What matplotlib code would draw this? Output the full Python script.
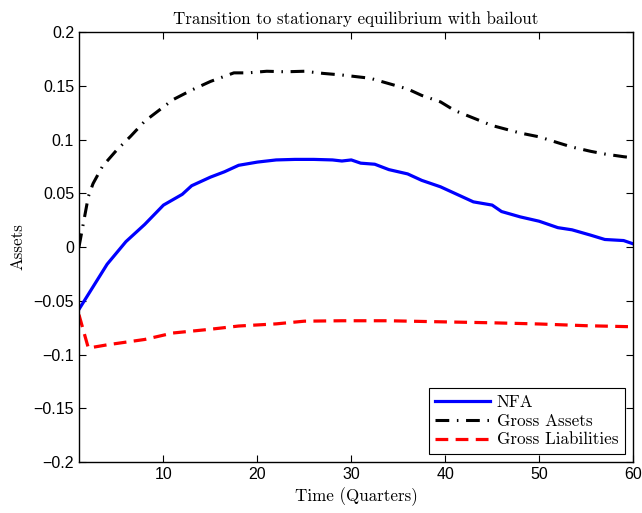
import matplotlib.pyplot as plt

# data (quarters)
t_nfa = [1, 2, 3, 4, 6, 8, 10, 12, 13, 15, 16.5, 18, 20, 22, 24, 26, 28, 29, 30, 31,
         32.5, 34, 36, 37.5, 39.5, 41, 43, 45, 46, 48, 50, 51, 52, 53.5, 55.5, 57, 59, 60]
nfa = [-0.058, -0.044, -0.030, -0.016, 0.005, 0.021, 0.039, 0.049, 0.057, 0.065, 0.070,
       0.076, 0.079, 0.081, 0.0815, 0.0815, 0.081, 0.080, 0.081, 0.078, 0.077, 0.072,
       0.068, 0.062, 0.056, 0.050, 0.042, 0.039, 0.033, 0.028, 0.024, 0.021, 0.018,
       0.016, 0.011, 0.007, 0.006, 0.003]

t_ga = [1, 2, 2.5, 3.5, 5, 6.5, 8, 9.5, 11, 13, 15, 17.5, 19, 21, 23, 25, 27, 29, 30,
        32, 34, 36, 37.5, 39.5, 41, 43, 45, 48, 50, 52, 53.5, 55.5, 57, 59, 60]
gross_assets = [0.0, 0.047, 0.059, 0.075, 0.090, 0.103, 0.117, 0.127, 0.137, 0.146,
                0.154, 0.162, 0.162, 0.1635, 0.163, 0.1635, 0.1615, 0.160, 0.159,
                0.157, 0.152, 0.147, 0.141, 0.135, 0.127, 0.120, 0.113, 0.106, 0.1025,
                0.097, 0.093, 0.089, 0.0865, 0.084, 0.083]

t_gl = [1, 2, 4, 8, 11, 15, 18, 22, 25, 29, 34, 39, 45, 50, 55, 60]
gross_liab = [-0.063, -0.094, -0.091, -0.086, -0.080, -0.0765, -0.0735, -0.0715,
              -0.069, -0.0686, -0.0686, -0.0695, -0.0705, -0.0716, -0.0732, -0.0742]

serif = 'cmr10'

fig = plt.figure(figsize=(6.42, 5.13), dpi=100)
ax = fig.add_axes([0.123, 0.0994, 0.863, 0.8382])

ax.plot(t_nfa, nfa, color='blue', lw=2.3, label='NFA')
ax.plot(t_ga, gross_assets, color='black', lw=2.2, dashes=(4.5, 2.5, 0.5, 2.5),
        label='Gross Assets')
ax.plot(t_gl, gross_liab, color='red', lw=2.3, dashes=(4.0, 2.3),
        label='Gross Liabilities')

ax.set_xlim(1, 60)
ax.set_ylim(-0.2, 0.2)
ax.set_xticks([10, 20, 30, 40, 50, 60])
ax.set_yticks([-0.2, -0.15, -0.1, -0.05, 0, 0.05, 0.1, 0.15, 0.2])
ax.set_yticklabels(['\u22120.2', '\u22120.15', '\u22120.1', '\u22120.05', '0',
                    '0.05', '0.1', '0.15', '0.2'])
ax.tick_params(direction='in', top=True, right=True, length=5, width=0.8,
               labelsize=11.5)
for lab in ax.get_xticklabels() + ax.get_yticklabels():
    lab.set_fontfamily('Liberation Sans')
for s in ax.spines.values():
    s.set_linewidth(1.0)

ax.set_title('Transition to stationary equilibrium with bailout', fontfamily=serif,
             fontsize=12.2, pad=6)
ax.set_xlabel('Time (Quarters)', fontfamily=serif, fontsize=12.2, labelpad=4)
ax.set_ylabel('Assets', fontfamily=serif, fontsize=12.2, labelpad=6)

leg = ax.legend(loc='lower right', prop={'family': serif, 'size': 12.3},
                fancybox=False, edgecolor='black', framealpha=1, handlelength=3.2,
                borderaxespad=0.45, labelspacing=0.2, borderpad=0.4, handletextpad=0.4)
leg.get_frame().set_linewidth(0.8)

fig.savefig('out.png', dpi=100)
